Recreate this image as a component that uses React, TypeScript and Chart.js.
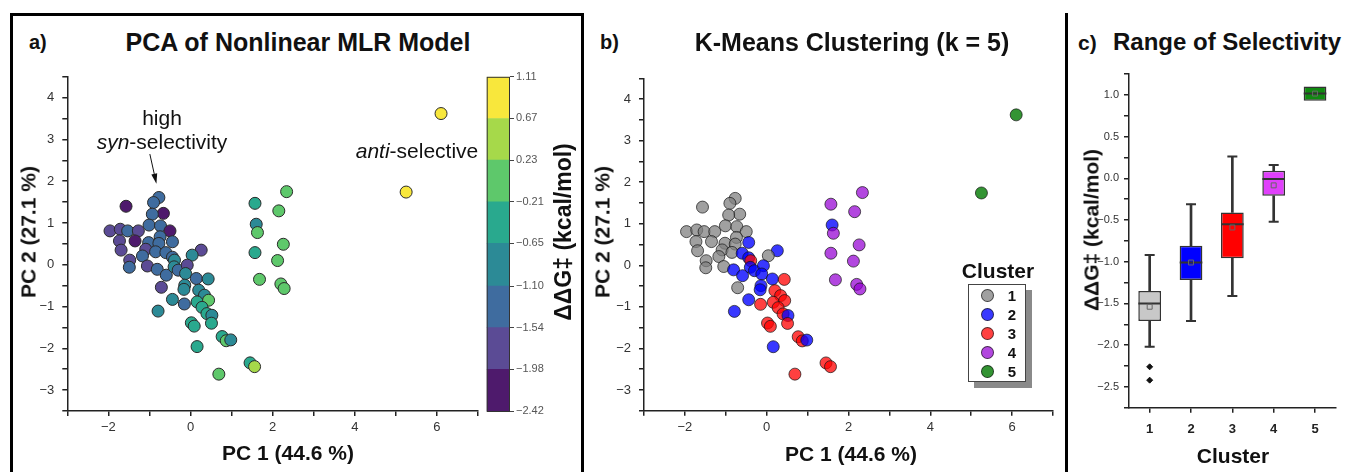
import React, { useEffect, useRef } from 'react';
import { Chart, registerables } from 'chart.js';

Chart.register(...registerables);

const FONT = '"Liberation Sans", Arial, Helvetica, sans-serif';

// ---------------- data: PCA scores shared by panels a and b ----------------
const PC1 = [
  -1.57, -0.77, -0.90, -0.66, -0.93, -1.96, -1.71, -1.53, -1.27, -1.01,
  -0.73, -0.50, -0.74, -1.73, -1.35, -1.02, -0.77, -0.44, -1.69, -1.09,
  -1.17, -0.85, -0.60, -0.44, -0.39, 0.26, 0.04, -1.48, -1.49, -1.05,
  -0.81, -0.59, -0.40, -0.30, -0.08, -0.12, -0.71, 0.14, 0.43, -0.14,
  -0.16, -0.44, -0.15, 0.20, 0.34, 0.16, 0.44, 0.28, 0.40, 0.52,
  0.51, -0.79, 0.02, 0.09, 0.16, 0.77, 0.87, 0.98, 0.69, 1.45,
  1.56, 1.57, 2.34, 2.15, 1.60, 1.63, 2.26, 1.57, 2.12, 1.68,
  2.20, 2.28, 5.25, 6.10,
];
const PC2 = [
  1.40, 1.61, 1.49, 1.23, 1.21, 0.81, 0.85, 0.81, 0.81, 0.95,
  0.93, 0.81, 0.67, 0.57, 0.57, 0.53, 0.51, 0.55, 0.35, 0.37,
  0.21, 0.31, 0.29, 0.18, 0.11, 0.35, 0.23, 0.11, -0.06, -0.03,
  -0.11, -0.25, -0.05, -0.13, -0.01, -0.21, -0.54, -0.33, -0.34, -0.49,
  -0.59, -0.83, -0.94, -0.61, -0.73, -0.89, -0.85, -1.02, -1.17, -1.21,
  -1.40, -1.11, -1.39, -1.47, -1.96, -1.72, -1.82, -1.80, -2.62, -2.35,
  -2.44, 1.47, 1.75, 1.29, 0.97, 0.77, 0.49, 0.29, 0.10, -0.35,
  -0.46, -0.57, 1.74, 3.62,
];
// ΔΔG‡ (kcal/mol) for each point
const DDG = [
  -2.42, -1.35, -1.30, -2.26, -1.42, -1.70, -1.62, -1.45, -1.75, -1.38,
  -1.33, -2.02, -1.40, -1.68, -2.00, -1.48, -1.36, -1.25, -1.72, -1.60,
  -1.44, -1.50, -1.18, -1.12, -1.08, -1.71, -0.92, -1.65, -1.52, -1.80,
  -1.20, -1.15, -0.95, -1.22, -1.58, -0.85, -1.85, -1.12, -0.80, -0.90,
  -0.75, -0.98, -1.41, -0.70, -0.95, -0.45, -0.05, -0.55, -0.40, -0.81,
  -0.50, -1.00, -0.58, -0.48, -0.31, -0.42, -0.15, -0.82, 0.05, -0.60,
  0.27, -0.52, 0.17, 0.10, -0.78, 0.02, 0.08, -0.40, -0.02, -0.10,
  -0.18, 0.05, 0.92, 1.11,
];
// k-means cluster of each point
const CLUSTER = [
  1, 1, 1, 1, 1, 1, 1, 1, 1, 1,
  1, 1, 1, 1, 1, 1, 1, 2, 1, 1,
  1, 1, 2, 2, 3, 2, 1, 1, 1, 1,
  2, 2, 2, 2, 2, 2, 1, 2, 3, 2,
  2, 2, 3, 3, 3, 3, 3, 3, 3, 2,
  3, 2, 3, 3, 2, 3, 3, 2, 3, 3,
  3, 4, 4, 4, 2, 4, 4, 4, 4, 4,
  4, 4, 5, 5,
];

// colour bar (binned viridis)
const CBAR_BOUNDS = [-2.42, -1.98, -1.54, -1.10, -0.65, -0.21, 0.23, 0.67, 1.11];
const CBAR_COLORS = ['#4e1a6c', '#5b4b95', '#3f6c9f', '#2c8a96', '#29a98e', '#5ec86b', '#a6d94a', '#f8e73c'];

// clusters
const CLUSTER_LABELS = ['1', '2', '3', '4', '5'];
const CLUSTER_COLORS = [
  'rgba(128,128,128,0.75)',
  'rgba(0,0,255,0.78)',
  'rgba(255,0,0,0.75)',
  'rgba(148,0,211,0.72)',
  'rgba(34,139,34,0.92)',
];

// box plot statistics (panel c)
const BOX_COLORS = ['#c8c8c8', '#0000ff', '#ff0000', '#e040fb', '#108a10'];
const BOX_Q1 = [-1.71, -1.22, -0.96, -0.21, 0.93];
const BOX_Q3 = [-1.35, -0.81, -0.41, 0.09, 1.10];
const BOX_MEDIAN = [-1.50, -1.01, -0.55, -0.01, 1.015];
const BOX_MEAN = [-1.54, -1.01, -0.59, -0.085, 1.015];
const WHISKER_LOW = [-2.02, -1.71, -1.41, -0.52, null];
const WHISKER_HIGH = [-0.92, -0.31, 0.26, 0.16, null];
const OUTLIER_CLUSTER = ['1', '1'];
const OUTLIER_VALUE = [-2.26, -2.42];

// ticks
const PC1_TICKS = [-3, -2, -1, 0, 1, 2, 3, 4, 5, 6, 7];
const PC1_LABELED = [-2, 0, 2, 4, 6];
const PC2_TICKS = [-3.5, -3, -2.5, -2, -1.5, -1, -0.5, 0, 0.5, 1, 1.5, 2, 2.5, 3, 3.5, 4, 4.5];
const PC2_LABELED = [-3, -2, -1, 0, 1, 2, 3, 4];
const SEL_TICKS = [-2.75, -2.5, -2.25, -2, -1.75, -1.5, -1.25, -1, -0.75, -0.5, -0.25, 0, 0.25, 0.5, 0.75, 1, 1.25];
const SEL_LABELED = [-2.5, -2, -1.5, -1, -0.5, 0, 0.5, 1];

// annotation arrow (data coordinates of panel a)
const ARROW_FROM = [-0.99, 2.65];
const ARROW_TO = [-0.83, 1.94];

// ---------------- helpers ----------------
const fmt = (v: number, d = 0) => (v < 0 ? '\u2212' : '') + Math.abs(v).toFixed(d);

function bandColor(v: number) {
  for (let i = 0; i < CBAR_COLORS.length; i++) {
    if (v <= CBAR_BOUNDS[i + 1] + 1e-9) return CBAR_COLORS[i];
  }
  return CBAR_COLORS[CBAR_COLORS.length - 1];
}

const axisLine = {
  grid: { display: true, drawOnChartArea: false, drawTicks: true, tickLength: 5, color: '#222', lineWidth: 1.5 },
  border: { display: true, color: '#222', width: 1.5 },
};

function pcaScales(yWidth: number, xHeight: number) {
  return {
    x: {
      type: 'linear', min: -3, max: 7, ...axisLine,
      afterBuildTicks: (s: any) => { s.ticks = PC1_TICKS.map((v) => ({ value: v })); },
      afterFit: (s: any) => { s.height = xHeight; },
      ticks: {
        autoSkip: false, maxRotation: 0, padding: 4, color: '#333',
        font: { family: FONT, size: 13 },
        callback: (v: number) => (PC1_LABELED.includes(v) ? fmt(v) : ''),
      },
    },
    y: {
      type: 'linear', min: -3.5, max: 4.5, ...axisLine,
      afterBuildTicks: (s: any) => { s.ticks = PC2_TICKS.map((v) => ({ value: v })); },
      afterFit: (s: any) => { s.width = yWidth; },
      ticks: {
        autoSkip: false, padding: 8, color: '#333',
        font: { family: FONT, size: 13 },
        callback: (v: number) => (PC2_LABELED.includes(v) ? fmt(v) : ''),
      },
    },
  };
}

const arrowPlugin = {
  id: 'synArrow',
  afterDatasetsDraw(chart: any) {
    const { x, y } = chart.scales;
    const ctx = chart.ctx;
    const x0 = x.getPixelForValue(ARROW_FROM[0]);
    const y0 = y.getPixelForValue(ARROW_FROM[1]);
    const x1 = x.getPixelForValue(ARROW_TO[0]);
    const y1 = y.getPixelForValue(ARROW_TO[1]);
    const ang = Math.atan2(y1 - y0, x1 - x0);
    const len = 10, hw = 3;
    const bx = x1 - Math.cos(ang) * len, by = y1 - Math.sin(ang) * len;
    ctx.save();
    ctx.strokeStyle = '#111';
    ctx.fillStyle = '#111';
    ctx.lineWidth = 1;
    ctx.beginPath();
    ctx.moveTo(x0, y0);
    ctx.lineTo(bx, by);
    ctx.stroke();
    ctx.beginPath();
    ctx.moveTo(x1, y1);
    ctx.lineTo(bx + Math.sin(ang) * hw, by - Math.cos(ang) * hw);
    ctx.lineTo(bx - Math.sin(ang) * hw, by + Math.cos(ang) * hw);
    ctx.closePath();
    ctx.fill();
    ctx.restore();
  },
};

const outlinePlugin = {
  id: 'cbarOutline',
  afterDatasetsDraw(chart: any) {
    const { left, top, width, height } = chart.chartArea;
    const ctx = chart.ctx;
    ctx.save();
    ctx.strokeStyle = '#333';
    ctx.lineWidth = 1;
    ctx.strokeRect(left + 0.5, top + 0.5, width - 1, height);
    ctx.restore();
  },
};

const baseOptions = {
  responsive: false,
  animation: false,
  events: [],
  plugins: { legend: { display: false }, tooltip: { enabled: false }, title: { display: false } },
};

// ---------------- chart configs ----------------
function configA(): any {
  return {
    type: 'scatter',
    data: {
      datasets: [{
        data: PC1.map((x, i) => ({ x, y: PC2[i] })),
        pointBackgroundColor: DDG.map(bandColor),
        pointBorderColor: '#2a2a2a',
        pointBorderWidth: 1,
        pointRadius: 6,
      }],
    },
    options: {
      ...baseOptions,
      layout: { padding: { top: 16.8, right: 3.5, left: 0, bottom: 0 } },
      scales: pcaScales(62.3, 59.1),
    },
    plugins: [arrowPlugin],
  };
}

function configColorbar(): any {
  return {
    type: 'bar',
    data: {
      labels: [''],
      datasets: CBAR_COLORS.map((c, i) => ({
        data: [[CBAR_BOUNDS[i], CBAR_BOUNDS[i + 1]]],
        backgroundColor: c,
        borderWidth: 0,
        barPercentage: 1,
        categoryPercentage: 1,
        grouped: false,
      })),
    },
    options: {
      ...baseOptions,
      layout: { padding: { left: 6.7, top: 16.8, bottom: 59, right: 0 } },
      scales: {
        x: { display: false },
        y: {
          position: 'right', min: -2.42, max: 1.11,
          afterBuildTicks: (s: any) => { s.ticks = CBAR_BOUNDS.map((v) => ({ value: v })); },
          afterFit: (s: any) => { s.width = 60; },
          ticks: { autoSkip: false, padding: 2, color: '#555', font: { family: FONT, size: 11 }, callback: (v: number) => fmt(v, 2) },
          grid: { display: true, drawOnChartArea: false, drawTicks: true, tickLength: 4, color: '#444', lineWidth: 1 },
          border: { display: false },
        },
      },
    },
    plugins: [outlinePlugin],
  };
}

function configB(): any {
  return {
    type: 'scatter',
    data: {
      datasets: [{
        data: PC1.map((x, i) => ({ x, y: PC2[i] })),
        pointBackgroundColor: CLUSTER.map((c) => CLUSTER_COLORS[c - 1]),
        pointBorderColor: 'rgba(20,20,20,0.7)',
        pointBorderWidth: 1,
        pointRadius: 6,
      }],
    },
    options: {
      ...baseOptions,
      layout: { padding: { top: 18.3, right: 6, left: 0, bottom: 0 } },
      scales: pcaScales(64, 59.3),
    },
  };
}

function configC(): any {
  const pt = { type: 'line', showLine: false };
  return {
    type: 'bar',
    data: {
      labels: CLUSTER_LABELS,
      datasets: [
        {
          data: WHISKER_LOW.map((w, i) => (w == null ? null : [w, BOX_Q1[i]])),
          backgroundColor: '#333', barThickness: 2, grouped: false, order: 6,
        },
        {
          data: WHISKER_HIGH.map((w, i) => (w == null ? null : [BOX_Q3[i], w])),
          backgroundColor: '#333', barThickness: 2, grouped: false, order: 6,
        },
        {
          data: BOX_Q1.map((q, i) => [q, BOX_Q3[i]]),
          backgroundColor: BOX_COLORS, borderColor: '#333', borderWidth: 1.5, borderSkipped: false,
          barPercentage: 0.55, categoryPercentage: 1, grouped: false, order: 5,
        },
        { ...pt, data: WHISKER_LOW, pointStyle: 'line', pointRadius: 5, pointBorderWidth: 2, pointBorderColor: '#333', order: 3 },
        { ...pt, data: WHISKER_HIGH, pointStyle: 'line', pointRadius: 5, pointBorderWidth: 2, pointBorderColor: '#333', order: 3 },
        { ...pt, data: BOX_MEDIAN, pointStyle: 'line', pointRadius: 11.3, pointBorderWidth: 2, pointBorderColor: '#333', order: 2 },
        { ...pt, data: BOX_MEAN, pointStyle: 'rect', pointRadius: 3.5, pointBorderWidth: 1, pointBorderColor: '#666', pointBackgroundColor: 'rgba(0,0,0,0)', order: 1 },
        {
          ...pt, data: OUTLIER_VALUE.map((v, i) => ({ x: OUTLIER_CLUSTER[i], y: v })),
          pointStyle: 'rectRot', pointRadius: 3, pointBorderWidth: 1, pointBorderColor: '#111', pointBackgroundColor: '#111', order: 1,
        },
      ],
    },
    options: {
      ...baseOptions,
      layout: { padding: { top: 14, right: 12, left: 0, bottom: 0 } },
      scales: {
        x: {
          type: 'category', offset: true, ...axisLine,
          grid: { ...axisLine.grid, offset: false },
          afterFit: (s: any) => { s.height = 62.3; },
          ticks: { padding: 9, color: '#222', font: { family: FONT, size: 13, weight: 'bold' } },
        },
        y: {
          type: 'linear', min: -2.75, max: 1.25, ...axisLine,
          afterBuildTicks: (s: any) => { s.ticks = SEL_TICKS.map((v) => ({ value: v })); },
          afterFit: (s: any) => { s.width = 54; },
          ticks: {
            autoSkip: false, padding: 5, color: '#333', font: { family: FONT, size: 11 },
            callback: (v: number) => (SEL_LABELED.includes(v) ? fmt(v, 1) : ''),
          },
        },
      },
    },
  };
}

// ---------------- components ----------------
function ChartBox({ left, top, width, height, make }: any) {
  const ref = useRef<HTMLCanvasElement>(null);
  useEffect(() => {
    const chart = new Chart(ref.current as HTMLCanvasElement, make());
    return () => chart.destroy();
  }, []);
  return (
    <canvas ref={ref} width={width} height={height}
      style={{ position: 'absolute', left, top, width, height }} />
  );
}

function Txt({ x, y, size, bold = false, rotate = false, anchor = 'middle', color = '#111', children }: any) {
  const tx = anchor === 'start' ? '0' : '-50%';
  return (
    <div style={{
      position: 'absolute', left: x, top: y, fontSize: size, fontFamily: FONT,
      fontWeight: bold ? 'bold' : 'normal', whiteSpace: 'nowrap', lineHeight: 1, color,
      transform: `translate(${tx}, -50%)` + (rotate ? ' rotate(-90deg)' : ''),
    }}>{children}</div>
  );
}

function LegendEntry({ i, y }: any) {
  return (
    <>
      <div style={{
        position: 'absolute', left: 980.5, top: y - 6.5, width: 13, height: 13, borderRadius: '50%',
        background: CLUSTER_COLORS[i], border: '1px solid rgba(20,20,20,0.7)', boxSizing: 'border-box',
      }} />
      <Txt x={1012} y={y} size={15} bold>{CLUSTER_LABELS[i]}</Txt>
    </>
  );
}

export default function App() {
  return (
    <div style={{ position: 'fixed', left: 0, top: 0, width: 1349, height: 472, overflow: 'hidden', background: '#fff' }}>
      {/* panel frames */}
      <div style={{ position: 'absolute', left: 10, top: 13, width: 574, height: 480, border: '3px solid #000', boxSizing: 'border-box' }} />
      <div style={{ position: 'absolute', left: 1065, top: 13, width: 3, height: 470, background: '#000' }} />

      {/* panel a */}
      <ChartBox left={5} top={60} width={480} height={410} make={configA} />
      <ChartBox left={480} top={60} width={90} height={410} make={configColorbar} />
      <Txt x={29} y={42} size={20} bold anchor="start">a)</Txt>
      <Txt x={298} y={42} size={25} bold>PCA of Nonlinear MLR Model</Txt>
      <Txt x={162} y={117} size={21}>high</Txt>
      <Txt x={162} y={141} size={21}><i>syn</i>-selectivity</Txt>
      <Txt x={417} y={150} size={21}><i>anti</i>-selective</Txt>
      <Txt x={28} y={232} size={21} bold rotate>PC 2 (27.1 %)</Txt>
      <Txt x={288} y={452} size={21} bold>PC 1 (44.6 %)</Txt>
      <Txt x={563} y={232} size={23} bold rotate>ΔΔG‡ (kcal/mol)</Txt>

      {/* panel b */}
      <ChartBox left={580} top={60} width={480} height={410} make={configB} />
      <Txt x={600} y={42} size={20} bold anchor="start">b)</Txt>
      <Txt x={852} y={42} size={25} bold>K-Means Clustering (k = 5)</Txt>
      <Txt x={602} y={232} size={21} bold rotate>PC 2 (27.1 %)</Txt>
      <Txt x={851} y={453} size={21} bold>PC 1 (44.6 %)</Txt>
      <Txt x={998} y={270} size={21} bold>Cluster</Txt>
      <div style={{ position: 'absolute', left: 974, top: 290, width: 58, height: 98, background: '#8a8a8a' }} />
      <div style={{ position: 'absolute', left: 968, top: 284, width: 58, height: 98, background: '#fff', border: '1px solid #444', boxSizing: 'border-box' }} />
      {[295, 314, 333, 352, 371].map((y, i) => <LegendEntry key={i} i={i} y={y} />)}

      {/* panel c */}
      <ChartBox left={1075} top={60} width={274} height={410} make={configC} />
      <Txt x={1078} y={42} size={21} bold anchor="start">c)</Txt>
      <Txt x={1113} y={42} size={24} bold anchor="start">Range of Selectivity</Txt>
      <Txt x={1091} y={230} size={21} bold rotate>ΔΔG‡ (kcal/mol)</Txt>
      <Txt x={1233} y={455} size={21} bold>Cluster</Txt>
    </div>
  );
}
